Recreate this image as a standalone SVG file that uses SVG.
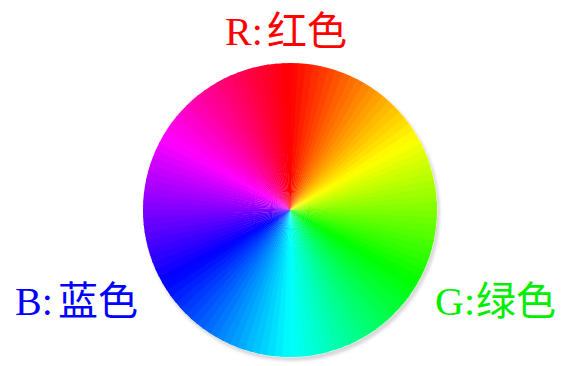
<svg xmlns="http://www.w3.org/2000/svg" xmlns:xlink="http://www.w3.org/1999/xlink" width="567" height="366" viewBox="0 0 567 366">
<style>
.lbl{font-family:"Liberation Serif","Noto Sans CJK SC",serif;font-size:40px}
</style>
<defs>
<path id="w" d="M0,0 L0,-147 A147,147 0 0 1 9.23,-146.71 Z"/>
<filter id="blur" x="-10%" y="-10%" width="120%" height="120%"><feGaussianBlur stdDeviation="1.5"/></filter>
</defs>
<rect width="567" height="366" fill="#ffffff"/>
<g id="wheel">
<circle cx="292" cy="213" r="148" fill="#d8d8d8" filter="url(#blur)"/>
<circle cx="290" cy="210" r="147.5" fill="#ffffff"/>
<g transform="translate(290,210)">
<use href="#w" transform="rotate(0)" fill="hsl(1.5,100%,50%)"/>
<use href="#w" transform="rotate(3)" fill="hsl(4.5,100%,50%)"/>
<use href="#w" transform="rotate(6)" fill="hsl(7.5,100%,50%)"/>
<use href="#w" transform="rotate(9)" fill="hsl(10.5,100%,50%)"/>
<use href="#w" transform="rotate(12)" fill="hsl(13.5,100%,50%)"/>
<use href="#w" transform="rotate(15)" fill="hsl(16.5,100%,50%)"/>
<use href="#w" transform="rotate(18)" fill="hsl(19.5,100%,50%)"/>
<use href="#w" transform="rotate(21)" fill="hsl(22.5,100%,50%)"/>
<use href="#w" transform="rotate(24)" fill="hsl(25.5,100%,50%)"/>
<use href="#w" transform="rotate(27)" fill="hsl(28.5,100%,50%)"/>
<use href="#w" transform="rotate(30)" fill="hsl(31.5,100%,50%)"/>
<use href="#w" transform="rotate(33)" fill="hsl(34.5,100%,50%)"/>
<use href="#w" transform="rotate(36)" fill="hsl(37.5,100%,50%)"/>
<use href="#w" transform="rotate(39)" fill="hsl(40.5,100%,50%)"/>
<use href="#w" transform="rotate(42)" fill="hsl(43.5,100%,50%)"/>
<use href="#w" transform="rotate(45)" fill="hsl(46.5,100%,50%)"/>
<use href="#w" transform="rotate(48)" fill="hsl(49.5,100%,50%)"/>
<use href="#w" transform="rotate(51)" fill="hsl(52.5,100%,50%)"/>
<use href="#w" transform="rotate(54)" fill="hsl(55.5,100%,50%)"/>
<use href="#w" transform="rotate(57)" fill="hsl(58.5,100%,50%)"/>
<use href="#w" transform="rotate(60)" fill="hsl(61.5,100%,50%)"/>
<use href="#w" transform="rotate(63)" fill="hsl(64.5,100%,50%)"/>
<use href="#w" transform="rotate(66)" fill="hsl(67.5,100%,50%)"/>
<use href="#w" transform="rotate(69)" fill="hsl(70.5,100%,50%)"/>
<use href="#w" transform="rotate(72)" fill="hsl(73.5,100%,50%)"/>
<use href="#w" transform="rotate(75)" fill="hsl(76.5,100%,50%)"/>
<use href="#w" transform="rotate(78)" fill="hsl(79.5,100%,50%)"/>
<use href="#w" transform="rotate(81)" fill="hsl(82.5,100%,50%)"/>
<use href="#w" transform="rotate(84)" fill="hsl(85.5,100%,50%)"/>
<use href="#w" transform="rotate(87)" fill="hsl(88.5,100%,50%)"/>
<use href="#w" transform="rotate(90)" fill="hsl(91.5,100%,50%)"/>
<use href="#w" transform="rotate(93)" fill="hsl(94.5,100%,50%)"/>
<use href="#w" transform="rotate(96)" fill="hsl(97.5,100%,50%)"/>
<use href="#w" transform="rotate(99)" fill="hsl(100.5,100%,50%)"/>
<use href="#w" transform="rotate(102)" fill="hsl(103.5,100%,50%)"/>
<use href="#w" transform="rotate(105)" fill="hsl(106.5,100%,50%)"/>
<use href="#w" transform="rotate(108)" fill="hsl(109.5,100%,50%)"/>
<use href="#w" transform="rotate(111)" fill="hsl(112.5,100%,50%)"/>
<use href="#w" transform="rotate(114)" fill="hsl(115.5,100%,50%)"/>
<use href="#w" transform="rotate(117)" fill="hsl(118.5,100%,50%)"/>
<use href="#w" transform="rotate(120)" fill="hsl(121.5,100%,50%)"/>
<use href="#w" transform="rotate(123)" fill="hsl(124.5,100%,50%)"/>
<use href="#w" transform="rotate(126)" fill="hsl(127.5,100%,50%)"/>
<use href="#w" transform="rotate(129)" fill="hsl(130.5,100%,50%)"/>
<use href="#w" transform="rotate(132)" fill="hsl(133.5,100%,50%)"/>
<use href="#w" transform="rotate(135)" fill="hsl(136.5,100%,50%)"/>
<use href="#w" transform="rotate(138)" fill="hsl(139.5,100%,50%)"/>
<use href="#w" transform="rotate(141)" fill="hsl(142.5,100%,50%)"/>
<use href="#w" transform="rotate(144)" fill="hsl(145.5,100%,50%)"/>
<use href="#w" transform="rotate(147)" fill="hsl(148.5,100%,50%)"/>
<use href="#w" transform="rotate(150)" fill="hsl(151.5,100%,50%)"/>
<use href="#w" transform="rotate(153)" fill="hsl(154.5,100%,50%)"/>
<use href="#w" transform="rotate(156)" fill="hsl(157.5,100%,50%)"/>
<use href="#w" transform="rotate(159)" fill="hsl(160.5,100%,50%)"/>
<use href="#w" transform="rotate(162)" fill="hsl(163.5,100%,50%)"/>
<use href="#w" transform="rotate(165)" fill="hsl(166.5,100%,50%)"/>
<use href="#w" transform="rotate(168)" fill="hsl(169.5,100%,50%)"/>
<use href="#w" transform="rotate(171)" fill="hsl(172.5,100%,50%)"/>
<use href="#w" transform="rotate(174)" fill="hsl(175.5,100%,50%)"/>
<use href="#w" transform="rotate(177)" fill="hsl(178.5,100%,50%)"/>
<use href="#w" transform="rotate(180)" fill="hsl(181.5,100%,50%)"/>
<use href="#w" transform="rotate(183)" fill="hsl(184.5,100%,50%)"/>
<use href="#w" transform="rotate(186)" fill="hsl(187.5,100%,50%)"/>
<use href="#w" transform="rotate(189)" fill="hsl(190.5,100%,50%)"/>
<use href="#w" transform="rotate(192)" fill="hsl(193.5,100%,50%)"/>
<use href="#w" transform="rotate(195)" fill="hsl(196.5,100%,50%)"/>
<use href="#w" transform="rotate(198)" fill="hsl(199.5,100%,50%)"/>
<use href="#w" transform="rotate(201)" fill="hsl(202.5,100%,50%)"/>
<use href="#w" transform="rotate(204)" fill="hsl(205.5,100%,50%)"/>
<use href="#w" transform="rotate(207)" fill="hsl(208.5,100%,50%)"/>
<use href="#w" transform="rotate(210)" fill="hsl(211.5,100%,50%)"/>
<use href="#w" transform="rotate(213)" fill="hsl(214.5,100%,50%)"/>
<use href="#w" transform="rotate(216)" fill="hsl(217.5,100%,50%)"/>
<use href="#w" transform="rotate(219)" fill="hsl(220.5,100%,50%)"/>
<use href="#w" transform="rotate(222)" fill="hsl(223.5,100%,50%)"/>
<use href="#w" transform="rotate(225)" fill="hsl(226.5,100%,50%)"/>
<use href="#w" transform="rotate(228)" fill="hsl(229.5,100%,50%)"/>
<use href="#w" transform="rotate(231)" fill="hsl(232.5,100%,50%)"/>
<use href="#w" transform="rotate(234)" fill="hsl(235.5,100%,50%)"/>
<use href="#w" transform="rotate(237)" fill="hsl(238.5,100%,50%)"/>
<use href="#w" transform="rotate(240)" fill="hsl(241.5,100%,50%)"/>
<use href="#w" transform="rotate(243)" fill="hsl(244.5,100%,50%)"/>
<use href="#w" transform="rotate(246)" fill="hsl(247.5,100%,50%)"/>
<use href="#w" transform="rotate(249)" fill="hsl(250.5,100%,50%)"/>
<use href="#w" transform="rotate(252)" fill="hsl(253.5,100%,50%)"/>
<use href="#w" transform="rotate(255)" fill="hsl(256.5,100%,50%)"/>
<use href="#w" transform="rotate(258)" fill="hsl(259.5,100%,50%)"/>
<use href="#w" transform="rotate(261)" fill="hsl(262.5,100%,50%)"/>
<use href="#w" transform="rotate(264)" fill="hsl(265.5,100%,50%)"/>
<use href="#w" transform="rotate(267)" fill="hsl(268.5,100%,50%)"/>
<use href="#w" transform="rotate(270)" fill="hsl(271.5,100%,50%)"/>
<use href="#w" transform="rotate(273)" fill="hsl(274.5,100%,50%)"/>
<use href="#w" transform="rotate(276)" fill="hsl(277.5,100%,50%)"/>
<use href="#w" transform="rotate(279)" fill="hsl(280.5,100%,50%)"/>
<use href="#w" transform="rotate(282)" fill="hsl(283.5,100%,50%)"/>
<use href="#w" transform="rotate(285)" fill="hsl(286.5,100%,50%)"/>
<use href="#w" transform="rotate(288)" fill="hsl(289.5,100%,50%)"/>
<use href="#w" transform="rotate(291)" fill="hsl(292.5,100%,50%)"/>
<use href="#w" transform="rotate(294)" fill="hsl(295.5,100%,50%)"/>
<use href="#w" transform="rotate(297)" fill="hsl(298.5,100%,50%)"/>
<use href="#w" transform="rotate(300)" fill="hsl(301.5,100%,50%)"/>
<use href="#w" transform="rotate(303)" fill="hsl(304.5,100%,50%)"/>
<use href="#w" transform="rotate(306)" fill="hsl(307.5,100%,50%)"/>
<use href="#w" transform="rotate(309)" fill="hsl(310.5,100%,50%)"/>
<use href="#w" transform="rotate(312)" fill="hsl(313.5,100%,50%)"/>
<use href="#w" transform="rotate(315)" fill="hsl(316.5,100%,50%)"/>
<use href="#w" transform="rotate(318)" fill="hsl(319.5,100%,50%)"/>
<use href="#w" transform="rotate(321)" fill="hsl(322.5,100%,50%)"/>
<use href="#w" transform="rotate(324)" fill="hsl(325.5,100%,50%)"/>
<use href="#w" transform="rotate(327)" fill="hsl(328.5,100%,50%)"/>
<use href="#w" transform="rotate(330)" fill="hsl(331.5,100%,50%)"/>
<use href="#w" transform="rotate(333)" fill="hsl(334.5,100%,50%)"/>
<use href="#w" transform="rotate(336)" fill="hsl(337.5,100%,50%)"/>
<use href="#w" transform="rotate(339)" fill="hsl(340.5,100%,50%)"/>
<use href="#w" transform="rotate(342)" fill="hsl(343.5,100%,50%)"/>
<use href="#w" transform="rotate(345)" fill="hsl(346.5,100%,50%)"/>
<use href="#w" transform="rotate(348)" fill="hsl(349.5,100%,50%)"/>
<use href="#w" transform="rotate(351)" fill="hsl(352.5,100%,50%)"/>
<use href="#w" transform="rotate(354)" fill="hsl(355.5,100%,50%)"/>
<use href="#w" transform="rotate(357)" fill="hsl(358.5,100%,50%)"/>
</g>
</g>
<g id="label-r"><text class="lbl" x="225" y="45" fill="#ff0000">R:<tspan x="267">红色</tspan></text></g>
<g id="label-b"><text class="lbl" x="15" y="315" fill="#0000ff">B:<tspan x="58">蓝色</tspan></text></g>
<g id="label-g"><text class="lbl" x="435" y="315" fill="#00ee00">G:<tspan x="476">绿色</tspan></text></g>
</svg>
